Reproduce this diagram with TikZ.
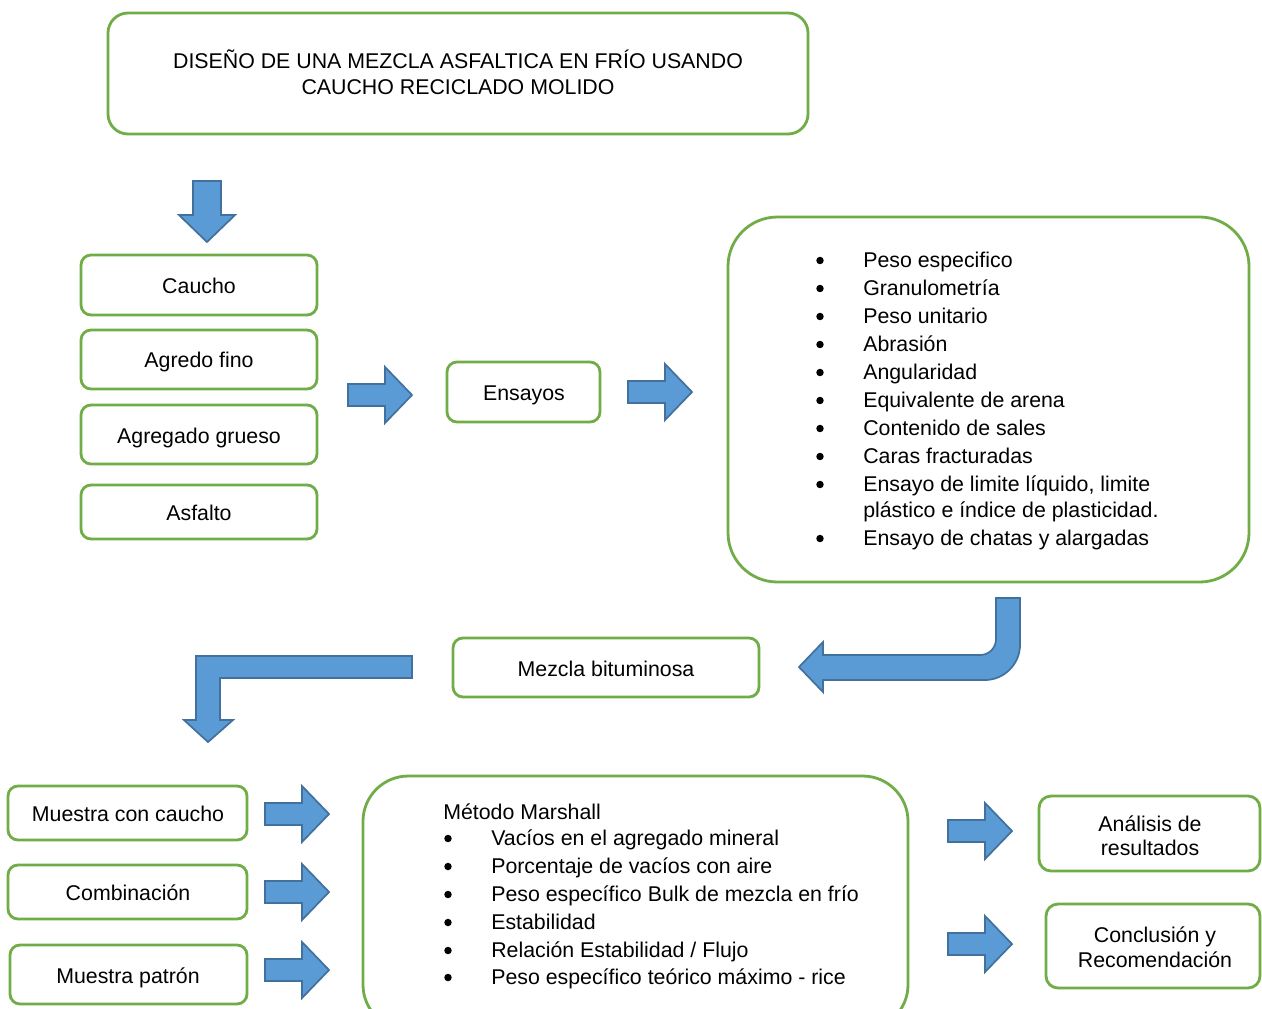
\documentclass[tikz,border=0pt]{standalone}
\usepackage{fontspec}
\setmainfont{Liberation Sans}
\usetikzlibrary{fit}
\definecolor{boxgreen}{HTML}{70AD47}
\definecolor{arrowfill}{HTML}{5B9BD5}
\definecolor{arrowline}{HTML}{41719C}
\tikzset{
  gbox/.style={draw=boxgreen, line width=2.1pt, rounded corners=#1, inner sep=0pt},
  gbox/.default=7.5pt,
  barrow/.style={fill=arrowfill, draw=arrowline, line width=1.3pt, line join=miter},
  txt/.style={anchor=base, inner sep=0pt, font=\fontsize{16pt}{19pt}\selectfont},
  txtl/.style={anchor=base west, inner sep=0pt, font=\fontsize{16pt}{19pt}\selectfont},
  bul/.style={circle, fill=black, inner sep=0pt, minimum size=5.6pt},
}
\newcommand{\rarr}[2]{\draw[barrow] (#1,#2) ++(0,-11) -- ++(37,0) -- ++(0,-17) -- ++(27,28) -- ++(-27,28) -- ++(0,-17) -- ++(-37,0) -- cycle;}
\begin{document}
\begin{tikzpicture}[x=0.75pt,y=-0.75pt]
\useasboundingbox (0,0) rectangle (1262,1008);
\clip (0,0) rectangle (1262,1008);
\fill[white] (0,0) rectangle (1262,1008);

% title
\node[gbox=15pt, fit={(108,13) (808,134)}] (title) {};
\node[txt] (t1) at (458,68) {DISEÑO DE UNA MEZCLA ASFALTICA EN FRÍO USANDO};
\node[txt] (t2) at (458,94) {CAUCHO RECICLADO MOLIDO};

% down arrow
\draw[barrow] (193,181) -- (221,181) -- (221,215) -- (235,215) -- (207,242) -- (179,215) -- (193,215) -- cycle;

% left boxes
\node[gbox, fit={(81,255) (317,315)}] (caucho) {};
\node[txt] at (199,293) {Caucho};
\node[gbox, fit={(81,330) (317,389)}] (fino) {};
\node[txt] at (199,367) {Agredo fino};
\node[gbox, fit={(81,405) (317,464)}] (grueso) {};
\node[txt] at (199,443) {Agregado grueso};
\node[gbox, fit={(81,485) (317,539)}] (asfalto) {};
\node[txt] at (199,520) {Asfalto};

\rarr{348}{395}
\node[gbox, fit={(447,362) (600,422)}] (ensayos) {};
\node[txt] at (524,400) {Ensayos};
\rarr{628}{392}

% list box
\node[gbox=37pt, fit={(728,217) (1249,582)}] (lista) {};
\foreach \yy/\tt in {267/{Peso especifico}, 295/{Granulometría}, 323/{Peso unitario}, 351/{Abrasión}, 379/{Angularidad}, 407/{Equivalente de arena}, 435/{Contenido de sales}, 463/{Caras fracturadas}, 491/{Ensayo de limite líquido, limite}, 545/{Ensayo de chatas y alargadas}}{
  \node[bul] at (820,\yy-6.5) {};
  \node[txtl] at (863,\yy) {\tt};
}
\node[txtl] at (863,517) {plástico e índice de plasticidad.};

% U-turn arrow
\draw[barrow] (996,598) -- (1020,598) -- (1020,645) .. controls (1020,664) and (1004,680) .. (985,680)
  -- (823,680) -- (823,692) -- (799,667) -- (823,642) -- (823,655) -- (980,655)
  .. controls (989,655) and (996,648) .. (996,639) -- cycle;

\node[gbox, fit={(453,638) (759,697)}] (mezcla) {};
\node[txt] at (606,676) {Mezcla bituminosa};

% bent arrow
\draw[barrow] (412,656) -- (196,656) -- (196,720) -- (184,720) -- (208,742) -- (233,720) -- (220,720) -- (220,678) -- (412,678) -- cycle;

% bottom-left boxes
\node[gbox, fit={(8,786) (247,840)}] (mcc) {};
\node[txt] at (128,821) {Muestra con caucho};
\node[gbox, fit={(8,865) (247,919)}] (comb) {};
\node[txt] at (128,900) {Combinación};
\node[gbox, fit={(10,945) (247,1004)}] (patron) {};
\node[txt] at (128,983) {Muestra patrón};

\rarr{265}{814}
\rarr{265}{892}
\rarr{265}{970}

% Marshall box
\node[gbox=34pt, fit={(363,776) (908,1030)}] (marshall) {};
\node[txtl] at (443,819) {Método Marshall};
\foreach \yy/\tt in {845/{Vacíos en el agregado mineral}, 873/{Porcentaje de vacíos con aire}, 901/{Peso específico Bulk de mezcla en frío}, 929/{Estabilidad}, 957/{Relación Estabilidad / Flujo}, 984/{Peso específico teórico máximo - rice}}{
  \node[bul] at (448,\yy-6.5) {};
  \node[txtl] at (491,\yy) {\tt};
}

\rarr{948}{831}
\rarr{948}{944}

% right boxes
\node[gbox=9pt, fit={(1039,796) (1260,871)}] (analisis) {};
\node[txt] at (1150,831) {Análisis de};
\node[txt] at (1150,855) {resultados};
\node[gbox=9pt, fit={(1046,904) (1260,988)}] (conclusion) {};
\node[txt] at (1155,942) {Conclusión y};
\node[txt] at (1155,967) {Recomendación};
\end{tikzpicture}
\end{document}
